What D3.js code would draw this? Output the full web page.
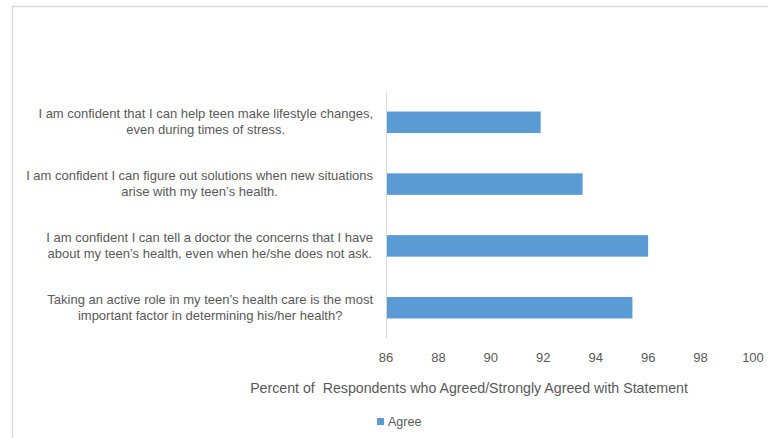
<!DOCTYPE html>
<html>
<head>
<meta charset="utf-8">
<script src="https://cdn.jsdelivr.net/npm/d3@7"></script>
<style>
  body { margin: 0; background: #fff; }
  text { font-family: "Liberation Sans", Arial, sans-serif; fill: #595959; white-space: pre; }
</style>
</head>
<body>
<svg id="chart" width="768" height="438"></svg>
<script>
// data
let statements = [
    "I am confident that I can help teen make lifestyle changes,\neven during times of stress.",
    "I am confident I can figure out solutions when new situations\narise with my teen\u2019s health.",
    "I am confident I can tell a doctor the concerns that I have\nabout my teen\u2019s health, even when he/she does not ask.",
    "Taking an active role in my teen\u2019s health care is the most\nimportant factor in determining his/her health?"
];
let agree = [91.9, 93.5, 96.0, 95.4];
let x_ticks = [86, 88, 90, 92, 94, 96, 98, 100];
let series_name = "Agree";
let x_title = "Percent of  Respondents who Agreed/Strongly Agreed with Statement";

let svg = d3.select("#chart");
let bar_color = "#5b9bd5";

let x = d3.scaleLinear().domain([86, 100]).range([386, 753]);
let y = d3.scaleBand().domain(statements).range([92, 338])
    .paddingInner(0.652).paddingOuter(0.316);

// outer frame (only top and left edges visible)
svg.append("path")
    .attr("d", "M12.5,438 V6.5 H768")
    .attr("fill", "none")
    .attr("stroke", "#d9d9d9")
    .attr("stroke-width", 1.5);

// bars
svg.selectAll("rect.bar")
    .data(agree).enter()
    .append("rect")
    .classed("bar", true)
    .attr("x", x(86))
    .attr("y", (d, i) => y(statements[i]))
    .attr("width", (d) => x(d) - x(86))
    .attr("height", y.bandwidth())
    .attr("fill", bar_color);

// category axis line
svg.append("line")
    .attr("x1", x(86) + 0.5).attr("x2", x(86) + 0.5)
    .attr("y1", y.range()[0]).attr("y2", y.range()[1])
    .attr("stroke", "#d9d9d9")
    .attr("stroke-width", 1);

// category labels, centered block, right edge at 373
let fs = 13;
statements.forEach((s) => {
    let lines = s.split("\n");
    let cy = y(s) + y.bandwidth() / 2;
    let g = svg.append("g");
    let t = g.selectAll("text").data(lines).enter()
        .append("text")
        .attr("text-anchor", "middle")
        .attr("font-size", fs)
        .attr("y", (d, i) => cy - 8 + i * 16 + 4)
        .text((d) => d);
    let w = d3.max(t.nodes(), (n) => n.getComputedTextLength());
    t.attr("x", 373 - w / 2);
});

// x tick labels
svg.selectAll("text.xtick")
    .data(x_ticks).enter()
    .append("text")
    .classed("xtick", true)
    .attr("x", (d) => x(d))
    .attr("y", 362)
    .attr("text-anchor", "middle")
    .attr("font-size", 13)
    .text((d) => d);

// x axis title
svg.append("text")
    .attr("x", 469)
    .attr("y", 393)
    .attr("text-anchor", "middle")
    .attr("font-size", 14.2)
    .text(x_title);

// legend
svg.append("rect")
    .attr("x", 377).attr("y", 418)
    .attr("width", 7).attr("height", 7)
    .attr("fill", bar_color);
svg.append("text")
    .attr("x", 388).attr("y", 426)
    .attr("font-size", 12.5)
    .text(series_name);
</script>
</body>
</html>
